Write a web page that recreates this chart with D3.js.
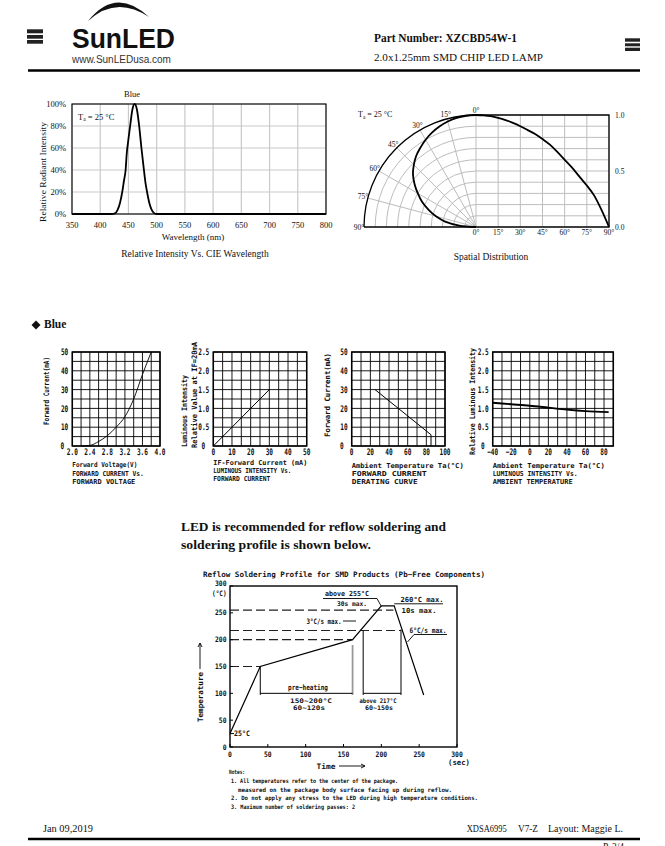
<!DOCTYPE html>
<html>
<head>
<meta charset="utf-8">
<script src="https://cdn.jsdelivr.net/npm/d3@7"></script>
<style>
body{margin:0;background:#fff}
svg{display:block}
</style>
</head>
<body>
<svg id="page" width="665" height="846"></svg>
<script>
// ---- data ----
var specWl  = [350,420,426,431,435,439,442,445,447,450,453,457,461,465,469,473,477,480,483,487,491,495,500,800];
var specRel = [0,0,0.5,4,10,20,30,40,55,68,80,95,100,95,80,60,42,29,20,10,4,1,0,0];
var specTicksX = [350,400,450,500,550,600,650,700,750,800];
var specTicksY = [0,20,40,60,80,100];

var spAngle = [0,5,10,15,20,25,30,35,40,45,50,55,60,65,70,75,80,85,90];
var spRel   = [1,0.997,0.99,0.975,0.955,0.93,0.9,0.865,0.83,0.785,0.735,0.67,0.6,0.53,0.45,0.37,0.28,0.15,0];
var spTicks = [0,15,30,45,60,75,90];
var spRight = ["0.0","0.5","1.0"];

var ivVolt = [2.2,2.4,2.6,2.8,3.0,3.2,3.4,3.6,3.8];
var ivCurr = [0,0.3,2.4,5.5,10,15.6,25,38,50];
var livCurr = [0,30];
var livRel  = [0,1.5];
var derTemp = [25,85,85];
var derCurr = [30,6,0];
var ltTemp = [-40,-20,0,20,40,60,85];
var ltRel  = [1.15,1.11,1.07,1.02,0.97,0.93,0.9];

var rfTime = [0,40,162,200,217,256];
var rfTemp = [25,150,200,263,263,97];
var rfLevels   = [150,200,217,255];
var rfLevelEnd = [40,162,226,216];
var rfTicks = [0,50,100,150,200,250,300];

var svg = d3.select("#page");
svg.append("rect").attr("width",665).attr("height",846).attr("fill","#fff");

// ---- text helpers ----
function st(g, x, y, s, size, o){
    o = o || {};
    var t = g.append("text").attr("x",x).attr("y",y)
        .attr("font-family","'Liberation Serif', serif")
        .attr("font-size",size)
        .attr("font-weight",o.bold ? "bold" : "normal")
        .attr("text-anchor",o.anchor || "start")
        .attr("fill",o.fill || "#111")
        .text(s);
    if (o.w) t.attr("textLength",o.w).attr("lengthAdjust","spacingAndGlyphs");
    if (o.mid) t.attr("dy","0.35em");
    return t;
}
function bt(g, x, y, s, o){
    o = o || {};
    var sx = o.sx || 0.75;
    var tr = "translate(" + x + "," + y + ")";
    if (o.rot) tr += " rotate(" + o.rot + ")";
    tr += " scale(" + sx + ",1)";
    var t = g.append("text").attr("transform",tr)
        .attr("font-family","'DejaVu Sans Mono', monospace")
        .attr("font-weight","bold")
        .attr("font-size",o.size || 8)
        .attr("text-anchor",o.anchor || "start")
        .attr("fill","#111")
        .text(s);
    if (o.w) t.attr("textLength",o.w / sx).attr("lengthAdjust","spacingAndGlyphs");
    if (o.mid) t.attr("dy","0.35em");
    return t;
}

// ---- header ----
var head = svg.append("g");
[[29.3,33.3],[35,38.7],[40,43.7]].forEach(function(b){
    head.append("rect").attr("x",27).attr("y",b[0]).attr("width",16).attr("height",b[1]-b[0]).attr("fill","#222");
});
[[38.3,41.7],[43.3,46.3],[47.7,51]].forEach(function(b){
    head.append("rect").attr("x",625).attr("y",b[0]).attr("width",15).attr("height",b[1]-b[0]).attr("fill","#222");
});
head.append("path").attr("d","M88,21 Q116,-14 149,17 Q116,-5 88,21 Z").attr("fill","#111");
head.append("text").attr("x",72).attr("y",48.3)
    .attr("font-family","'Liberation Sans', Arial, sans-serif").attr("font-weight","bold")
    .attr("font-size",28).attr("fill","#111")
    .attr("textLength",103).attr("lengthAdjust","spacingAndGlyphs").text("SunLED");
head.append("text").attr("x",72).attr("y",63.3)
    .attr("font-family","'Liberation Sans', Arial, sans-serif")
    .attr("font-size",10).attr("fill","#333").text("www.SunLEDusa.com");
st(head,374,42.3,"Part Number: XZCBD54W-1",11.5,{bold:true,w:143});
st(head,374,61,"2.0x1.25mm SMD CHIP LED LAMP",9.5,{w:169});
head.append("line").attr("x1",28).attr("x2",640).attr("y1",70.5).attr("y2",70.5).attr("stroke","#000").attr("stroke-width",2.4);

// ---- spectrum ----
var gS = svg.append("g");
var sx = d3.scaleLinear().domain([350,800]).range([72,326]);
var sy = d3.scaleLinear().domain([0,100]).range([214,104]);
gS.selectAll(".vg").data(specTicksX).enter().append("line")
    .attr("x1",function(d){return sx(d);}).attr("x2",function(d){return sx(d);})
    .attr("y1",sy(0)).attr("y2",sy(100)).attr("stroke","#c9c9c9").attr("stroke-width",1.2);
gS.selectAll(".hg").data(specTicksY).enter().append("line")
    .attr("x1",sx(350)).attr("x2",sx(800))
    .attr("y1",function(d){return sy(d);}).attr("y2",function(d){return sy(d);})
    .attr("stroke","#c9c9c9").attr("stroke-width",1.2);
gS.append("rect").attr("x",sx(350)).attr("y",sy(100)).attr("width",sx(800)-sx(350)).attr("height",sy(0)-sy(100))
    .attr("fill","none").attr("stroke","#000").attr("stroke-width",1.1);
gS.append("path").datum(d3.zip(specWl,specRel))
    .attr("d",d3.line().x(function(d){return sx(d[0]);}).y(function(d){return sy(d[1]);}).curve(d3.curveMonotoneX))
    .attr("fill","none").attr("stroke","#000").attr("stroke-width",1.8);
specTicksY.forEach(function(d){ st(gS,66,sy(d),d+"%",8.5,{anchor:"end",mid:true}); });
specTicksX.forEach(function(d){ st(gS,sx(d),227.5,String(d),8.5,{anchor:"middle"}); });
st(gS,193,240,"Wavelength (nm)",9,{anchor:"middle"});
st(gS,195,257,"Relative Intensity Vs. CIE Wavelength",9.5,{anchor:"middle"});
st(gS,132,97,"Blue",8.5,{anchor:"middle"});
var ta1 = st(gS,78,119.5,"T",8.5);
ta1.append("tspan").attr("font-size",5.5).attr("dy",1.5).text("a");
ta1.append("tspan").attr("dy",-1.5).text(" = 25 \u00B0C");
gS.append("text").attr("transform","translate(46,172) rotate(-90)")
    .attr("font-family","'Liberation Serif', serif").attr("font-size",8.5).attr("fill","#111")
    .attr("text-anchor","middle").attr("textLength",100).attr("lengthAdjust","spacingAndGlyphs")
    .text("Relative  Radiant Intensity");

// ---- spatial distribution ----
var gP = svg.append("g");
var cx = 476, cy = 227, R = 112;
var px = d3.scaleLinear().domain([0,90]).range([cx,609]);
var py = d3.scaleLinear().domain([0,1]).range([cy,cy-R]);
var gray = "#bdbdbd";
d3.range(1,10).forEach(function(k){
    var r = k/10*R;
    gP.append("path").attr("d","M" + (cx-r) + "," + cy + " A" + r + "," + r + " 0 0 1 " + cx + "," + (cy-r))
        .attr("fill","none").attr("stroke",gray).attr("stroke-width",1);
});
spTicks.slice(1,6).forEach(function(a){
    var t = a*Math.PI/180;
    gP.append("line").attr("x1",cx).attr("y1",cy).attr("x2",cx-R*Math.sin(t)).attr("y2",cy-R*Math.cos(t))
        .attr("stroke",gray).attr("stroke-width",1);
});
gP.selectAll(".rv").data(spTicks).enter().append("line")
    .attr("x1",function(d){return px(d);}).attr("x2",function(d){return px(d);})
    .attr("y1",py(0)).attr("y2",py(1)).attr("stroke",gray).attr("stroke-width",1);
gP.selectAll(".rh").data(d3.range(1,10)).enter().append("line")
    .attr("x1",px(0)).attr("x2",px(90))
    .attr("y1",function(d){return py(d/10);}).attr("y2",function(d){return py(d/10);})
    .attr("stroke",gray).attr("stroke-width",1);
gP.append("path").attr("d","M" + (cx-R) + "," + cy + " A" + R + "," + R + " 0 0 1 " + cx + "," + (cy-R))
    .attr("fill","none").attr("stroke","#000").attr("stroke-width",1.3);
gP.append("path").attr("d","M" + cx + "," + py(1) + " H" + px(90) + " V" + cy + " H" + (cx-R))
    .attr("fill","none").attr("stroke","#000").attr("stroke-width",1.3);
var spData = d3.zip(spAngle,spRel);
gP.append("path").datum(spData)
    .attr("d",d3.line().x(function(d){return px(d[0]);}).y(function(d){return py(d[1]);}).curve(d3.curveMonotoneX))
    .attr("fill","none").attr("stroke","#000").attr("stroke-width",1.8);
gP.append("path").datum(spData).attr("transform","translate(" + cx + "," + cy + ")")
    .attr("d",d3.lineRadial().angle(function(d){return -d[0]*Math.PI/180;}).radius(function(d){return d[1]*R;}).curve(d3.curveCardinal))
    .attr("fill","none").attr("stroke","#000").attr("stroke-width",1.8);
spTicks.forEach(function(a){
    var t = a*Math.PI/180, rr = R + 5;
    st(gP,cx-rr*Math.sin(t),cy-rr*Math.cos(t),a+"\u00B0",7.5,{anchor:"middle",mid:true});
    st(gP,px(a),234.5,a+"\u00B0",7.5,{anchor:"middle"});
});
spRight.forEach(function(s){ st(gP,615,py(+s),s,7.5,{mid:true}); });
var ta2 = st(gP,358,117,"T",8);
ta2.append("tspan").attr("font-size",5.5).attr("dy",1.5).text("a");
ta2.append("tspan").attr("dy",-1.5).text(" = 25 \u00B0C");
st(gP,491,260,"Spatial Distribution",9.5,{anchor:"middle"});

// ---- Blue heading ----
svg.append("path").attr("d","M36,320.5 L40.5,325 L36,329.5 L31.5,325 Z").attr("fill","#111");
st(svg,44,328,"Blue",11.5,{bold:true});

// ---- small characteristic charts ----
function smallChart(c){
    var g = svg.append("g");
    var x = d3.scaleLinear().domain(c.xd).range([c.l,c.r]);
    var y = d3.scaleLinear().domain(c.yd).range([c.b,c.t]);
    var xs = d3.range(c.nx+1).map(function(i){return c.xd[0] + i*(c.xd[1]-c.xd[0])/c.nx;});
    var ys = d3.range(c.ny+1).map(function(i){return c.yd[0] + i*(c.yd[1]-c.yd[0])/c.ny;});
    g.selectAll(".gx").data(xs).enter().append("line")
        .attr("x1",function(d){return x(d);}).attr("x2",function(d){return x(d);})
        .attr("y1",c.t).attr("y2",c.b).attr("stroke","#000").attr("stroke-width",0.9);
    g.selectAll(".gy").data(ys).enter().append("line")
        .attr("x1",c.l).attr("x2",c.r)
        .attr("y1",function(d){return y(d);}).attr("y2",function(d){return y(d);})
        .attr("stroke","#000").attr("stroke-width",0.9);
    g.append("rect").attr("x",c.l).attr("y",c.t).attr("width",c.r-c.l).attr("height",c.b-c.t)
        .attr("fill","none").attr("stroke","#000").attr("stroke-width",1.5);
    g.append("path").datum(d3.zip(c.xv,c.yv))
        .attr("d",d3.line().x(function(d){return x(d[0]);}).y(function(d){return y(d[1]);}).curve(c.curve || d3.curveLinear))
        .attr("fill","none").attr("stroke","#000").attr("stroke-width",c.lw || 1);
    c.xt.forEach(function(d){ bt(g,x(d),455,c.fx(d),{anchor:"middle",size:9,sx:0.68}); });
    c.yt.forEach(function(d){
        bt(g,c.l-(d === 0 ? 8 : 4),y(d),c.fy(d),{anchor:"end",size:9,sx:0.68,mid:true});
    });
    c.ylab.forEach(function(a){ bt(g,a[0],a[1],a[2],{rot:-90,anchor:a[3],w:a[4],size:7.5}); });
    c.xlab.forEach(function(a){ bt(g,c.l,a[0],a[1],{w:a[2],size:6.8}); });
    return g;
}
function f0(d){ return d === 0 ? "0" : d.toFixed(1); }
function fi(d){ return d < 0 ? "\u2212" + (-d) : String(d); }

smallChart({l:72.3,r:160,t:352,b:446,xd:[2,4],yd:[0,50],nx:10,ny:10,
    xv:ivVolt,yv:ivCurr,curve:d3.curveMonotoneX,lw:0.9,
    xt:[2.0,2.4,2.8,3.2,3.6,4.0],fx:function(d){return d.toFixed(1);},
    yt:[0,10,20,30,40,50],fy:fi,
    ylab:[[49,391,"Forward Current(mA)","middle",68]],
    xlab:[[467,"Forward Voltage(V)",65],[475.5,"FORWARD CURRENT Vs.",71.6],[483.5,"FORWARD VOLTAGE",63]]});
smallChart({l:213.3,r:306.7,t:352,b:446,xd:[0,50],yd:[0,2.5],nx:10,ny:10,
    xv:livCurr,yv:livRel,lw:1,
    xt:[0,10,20,30,40,50],fx:fi,
    yt:[0,0.5,1.0,1.5,2.0,2.5],fy:f0,
    ylab:[[187,447,"Luminous Intensity","start",72],[196.5,448,"Relative Value at IF=20mA","start",106]],
    xlab:[[464.5,"IF-Forward Current (mA)",94],[472.5,"LUMINOUS INTENSITY Vs.",78],[480.5,"FORWARD CURRENT",57]]});
smallChart({l:351.7,r:445,t:352,b:446,xd:[0,100],yd:[0,50],nx:10,ny:10,
    xv:derTemp,yv:derCurr,lw:1,
    xt:[0,20,40,60,80,100],fx:fi,
    yt:[0,10,20,30,40,50],fy:fi,
    ylab:[[330,395,"Forward Current(mA)","middle",84]],
    xlab:[[468,"Ambient Temperature Ta(\u00B0C)",112],[476,"FORWARD CURRENT",75],[484,"DERATING CURVE",66]]});
smallChart({l:492.7,r:613.3,t:352,b:446,xd:[-40,90],yd:[0,2.5],nx:13,ny:10,
    xv:ltTemp,yv:ltRel,curve:d3.curveMonotoneX,lw:1.8,
    xt:[-40,-20,0,20,40,60,80],fx:fi,
    yt:[0,0.5,1.0,1.5,2.0,2.5],fy:f0,
    ylab:[[474.5,401.5,"Relative Luminous Intensity","middle",107]],
    xlab:[[468,"Ambient Temperature Ta(\u00B0C)",112],[476,"LUMINOUS INTENSITY Vs.",85],[484,"AMBIENT TEMPERATURE",80]]});

// ---- reflow text ----
st(svg,181,531,"LED is recommended for reflow soldering and",12,{bold:true,w:265});
st(svg,181,549,"soldering profile is shown below.",12,{bold:true,w:190});

// ---- reflow chart ----
var gR = svg.append("g");
var rx = d3.scaleLinear().domain([0,300]).range([230,457]);
var ry = d3.scaleLinear().domain([0,300]).range([747,586]);
bt(gR,344,577,"Reflow Soldering Profile for SMD Products (Pb\u2212Free Components)",{anchor:"middle",size:7.5,w:282});
rfLevels.forEach(function(l,i){
    gR.append("line").attr("x1",rx(0)).attr("x2",rx(rfLevelEnd[i])).attr("y1",ry(l)).attr("y2",ry(l))
        .attr("stroke","#222").attr("stroke-width",1.1).attr("stroke-dasharray","9,4");
});
[[40,150,97,"#000",1],[162,190,97,"#999",1.8],[176,217,97,"#000",1],[226,219,97,"#000",1]].forEach(function(v){
    gR.append("line").attr("x1",rx(v[0])).attr("x2",rx(v[0])).attr("y1",ry(v[1])).attr("y2",ry(v[2]))
        .attr("stroke",v[3]).attr("stroke-width",v[4]);
});
[[40,162],[176,226]].forEach(function(s){
    gR.append("line").attr("x1",rx(s[0])).attr("x2",rx(s[1])).attr("y1",ry(100)).attr("y2",ry(100))
        .attr("stroke","#000").attr("stroke-width",1);
});
gR.append("rect").attr("x",rx(0)).attr("y",ry(300)).attr("width",rx(300)-rx(0)).attr("height",ry(0)-ry(300))
    .attr("fill","none").attr("stroke","#000").attr("stroke-width",1.4);
rfTicks.forEach(function(d){
    gR.append("line").attr("x1",rx(d)).attr("x2",rx(d)).attr("y1",ry(0)).attr("y2",ry(0)-3).attr("stroke","#000");
    gR.append("line").attr("x1",rx(0)).attr("x2",rx(0)+3).attr("y1",ry(d)).attr("y2",ry(d)).attr("stroke","#000");
    bt(gR,rx(d),757,String(d),{anchor:"middle",size:7.5,sx:0.85});
    bt(gR,226.5,d === 300 ? 583.5 : ry(d),String(d),{anchor:"end",size:7.5,sx:0.85,mid:true});
});
bt(gR,226.5,593.5,"(\u00B0C)",{anchor:"end",size:7.5,sx:0.8,mid:true});
bt(gR,459,764.5,"(sec)",{anchor:"middle",size:7.5,w:22});
gR.append("path").datum(d3.zip(rfTime,rfTemp))
    .attr("d",d3.line().x(function(d){return rx(d[0]);}).y(function(d){return ry(d[1]);}))
    .attr("fill","none").attr("stroke","#000").attr("stroke-width",1.2);
gR.append("line").attr("x1",230).attr("x2",234).attr("y1",ry(25)).attr("y2",ry(25)).attr("stroke","#000");
bt(gR,234,ry(25),"25\u00B0C",{size:7.5,w:16,mid:true});
bt(gR,308,690,"pre\u2212heating",{anchor:"middle",size:7.5,w:40});
bt(gR,311,702.5,"150~200\u00B0C",{anchor:"middle",size:6.3,w:42});
bt(gR,309,709.5,"60~120s",{anchor:"middle",size:6.3,w:32});
bt(gR,378,702.5,"above 217\u00B0C",{anchor:"middle",size:6.3,w:37});
bt(gR,379,709.5,"60~150s",{anchor:"middle",size:6.3,w:28});
bt(gR,347,596,"above 255\u00B0C",{anchor:"middle",size:7,w:44});
gR.append("path").attr("d","M323,598.5 H377 L" + rx(200) + "," + ry(262)).attr("fill","none").attr("stroke","#000").attr("stroke-width",0.9);
bt(gR,352,605.5,"30s max.",{anchor:"middle",size:6.5,w:30});
bt(gR,422,601.5,"260\u00B0C max.",{anchor:"middle",size:7,w:43});
gR.append("line").attr("x1",rx(217)).attr("x2",443).attr("y1",603.8).attr("y2",603.8).attr("stroke","#000").attr("stroke-width",0.9);
bt(gR,419,612.5,"10s max.",{anchor:"middle",size:7,w:35});
bt(gR,324,623.5,"3\u00B0C/s max.",{anchor:"middle",size:7.5,w:35});
gR.append("line").attr("x1",343).attr("x2",356).attr("y1",621).attr("y2",621).attr("stroke","#000").attr("stroke-width",0.9);
bt(gR,428,632.5,"6\u00B0C/s max.",{anchor:"middle",size:7.5,w:37});
gR.append("path").attr("d","M447,634.5 H414 L407.5,642").attr("fill","none").attr("stroke","#000").attr("stroke-width",0.9);
bt(gR,326,768.5,"Time",{anchor:"middle",size:7.5,w:19});
gR.append("path").attr("d","M339,766 H365 M361,764 L365,766 L361,768").attr("fill","none").attr("stroke","#000").attr("stroke-width",0.9);
bt(gR,203,722,"Temperature",{rot:-90,size:7.5,w:50});
gR.append("path").attr("d","M200,669 V643 M198,647 L200,643 L202,647").attr("fill","none").attr("stroke","#000").attr("stroke-width",0.9);

// notes
bt(gR,229,773.5,"Notes:",{size:6,w:16});
bt(gR,231,783,"1. All temperatures refer to the center of the package.",{size:6,w:167});
bt(gR,238,791.5,"measured on the package body surface facing up during reflow.",{size:6,w:214});
bt(gR,231,800,"2. Do not apply any stress to the LED during high temperature conditions.",{size:6,w:247});
bt(gR,231,808.5,"3. Maximum number of soldering passes: 2",{size:6,w:124});

// ---- footer ----
var foot = svg.append("g");
st(foot,43,832,"Jan 09,2019",9.5,{w:50});
st(foot,466.7,832,"XDSA6995",9.5,{w:40});
st(foot,518,832,"V7-Z",9.5,{w:20});
st(foot,548,832,"Layout: Maggie L.",9.5,{w:75});
foot.append("line").attr("x1",28).attr("x2",640).attr("y1",839).attr("y2",839).attr("stroke","#000").attr("stroke-width",2.4);
st(foot,603,850,"P. 3/4",9.5);
</script>
</body>
</html>
